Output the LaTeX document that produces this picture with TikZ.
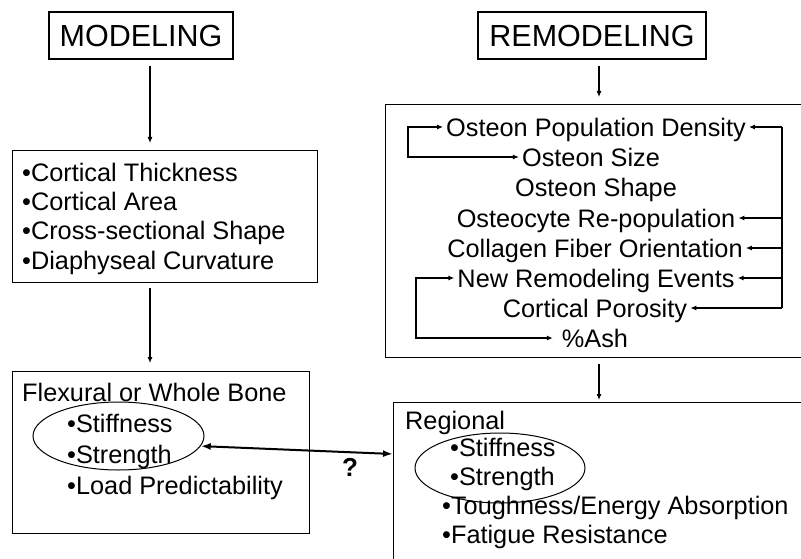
\documentclass[tikz,border=0pt]{standalone}
\usepackage{fontspec}
\setmainfont{Liberation Sans}
\usetikzlibrary{arrows.meta,calc,shapes.geometric}
\begin{document}
\begin{tikzpicture}[x=1pt,y=-1pt,
  frame/.style={draw, line width=1.3pt, inner sep=0pt, anchor=north west},
  head/.style={draw, line width=1.3pt, inner sep=0pt, font=\fontsize{30.5}{34}\selectfont, text height=21.8pt, text depth=0pt, minimum height=47pt},
  txt/.style={font=\fontsize{25.3}{30}\selectfont, inner ysep=0pt, inner xsep=3pt, text height=18.1pt, text depth=0pt},
  oval/.style={draw, ellipse, line width=1pt, inner sep=0pt},
  ln/.style={line width=1.1pt},
  ar/.style={line width=1.1pt, -{Latex[length=6pt,width=5pt]}},
  ar2/.style={line width=1.1pt, {Latex[length=6pt,width=5pt]}-{Latex[length=6pt,width=5pt]}},
  dbl/.style={line width=2pt, {Latex[length=10pt,width=7pt]}-{Latex[length=10pt,width=7pt]}}]
\clip (0,0) rectangle (801,559);
\fill[white] (0,0) rectangle (801,559);

% header boxes
\node[head, minimum width=184pt] (mod) at (141,35.5) {MODELING};
\node[head, minimum width=228pt] (remod) at (592,35.5) {REMODELING};

% frames
\node[frame, minimum width=305pt, minimum height=132pt] (b1) at (12,150) {};
\node[frame, minimum width=297pt, minimum height=162pt] (b2) at (12,371) {};
\node[frame, minimum width=440pt, minimum height=253pt] (r1) at (385,104) {};
\node[frame, minimum width=440pt, minimum height=200pt] (r2) at (393,402) {};

% left box 1
\node[txt, anchor=west] (ct) at (19,172) {•Cortical Thickness};
\node[txt, anchor=west] (ca) at (19,201.3) {•Cortical Area};
\node[txt, anchor=west] (cs) at (19,230.6) {•Cross-sectional Shape};
\node[txt, anchor=west] (dc) at (19,260) {•Diaphyseal Curvature};

% left box 2
\node[txt, anchor=west] (flex) at (19,392) {Flexural or Whole Bone};
\node[txt, anchor=west] (st1) at (64,423) {•Stiffness};
\node[txt, anchor=west] (sg1) at (64,454) {•Strength};
\node[txt, anchor=west] (lp) at (64,485) {•Load Predictability};
\node[oval, minimum width=171pt, minimum height=68pt] (e1) at (118.5,436) {};

% right box 1
\node[txt] (opd) at (596,127) {Osteon Population Density};
\node[txt] (osize) at (591,157) {Osteon Size};
\node[txt] (oshape) at (596,187) {Osteon Shape};
\node[txt] (osteo) at (596,218) {Osteocyte Re-population};
\node[txt] (coll) at (595,248) {Collagen Fiber Orientation};
\node[txt] (newrem) at (596,278) {New Remodeling Events};
\node[txt] (poro) at (595,308) {Cortical Porosity};
\node[txt] (ash) at (595,338) {\%Ash};

% right box 2
\node[txt, anchor=west] (reg) at (402,420) {Regional};
\node[txt, anchor=west] (st2) at (447,447) {•Stiffness};
\node[txt, anchor=west] (sg2) at (447,476) {•Strength};
\node[txt, anchor=west] (tough) at (439,505) {•Toughness/Energy Absorption};
\node[txt, anchor=west] (fat) at (439,534) {•Fatigue Resistance};
\node[oval, minimum width=170pt, minimum height=70pt] (e2) at (500,468) {};

% question mark
\node[font=\bfseries\fontsize{26}{30}\selectfont, inner sep=0pt, text height=18.6pt, text depth=0pt] (q) at (350,467) {?};

% vertical arrows
\coordinate (ax1) at (150,0);
\coordinate (ax2) at (599,0);
\draw[ar, shorten <=6pt, shorten >=7pt] (ax1 |- mod.south) -- (ax1 |- b1.north);
\draw[ar, shorten <=5pt, shorten >=8pt] (ax1 |- b1.south) -- (ax1 |- b2.north);
\draw[ar, shorten <=6pt, shorten >=7pt] (ax2 |- remod.south) -- (ax2 |- r1.north);
\draw[ar, shorten <=6pt, shorten >=2pt] (ax2 |- r1.south) -- (ax2 |- r2.north);

% loops in right box 1
\coordinate (lv) at (408,0);
\coordinate (lv2) at (416,0);
\coordinate (rv) at (782,0);
\draw[ar2] (opd.west) -| (lv |- osize.west) -- (osize.west);
\draw[ar2, shorten >=6pt] (newrem.west) -| (lv2 |- ash.west) -- (ash.west);
\draw[ln] (rv |- opd.east) -- (rv |- poro.east);
\foreach \n in {opd,osteo,coll,newrem,poro}
  \draw[ar] (rv |- \n.east) -- (\n.east);

% double arrow
\coordinate (dr) at (0,454);
\draw[dbl] (e1.-7) -- (r2.west |- dr);
\end{tikzpicture}
\end{document}
